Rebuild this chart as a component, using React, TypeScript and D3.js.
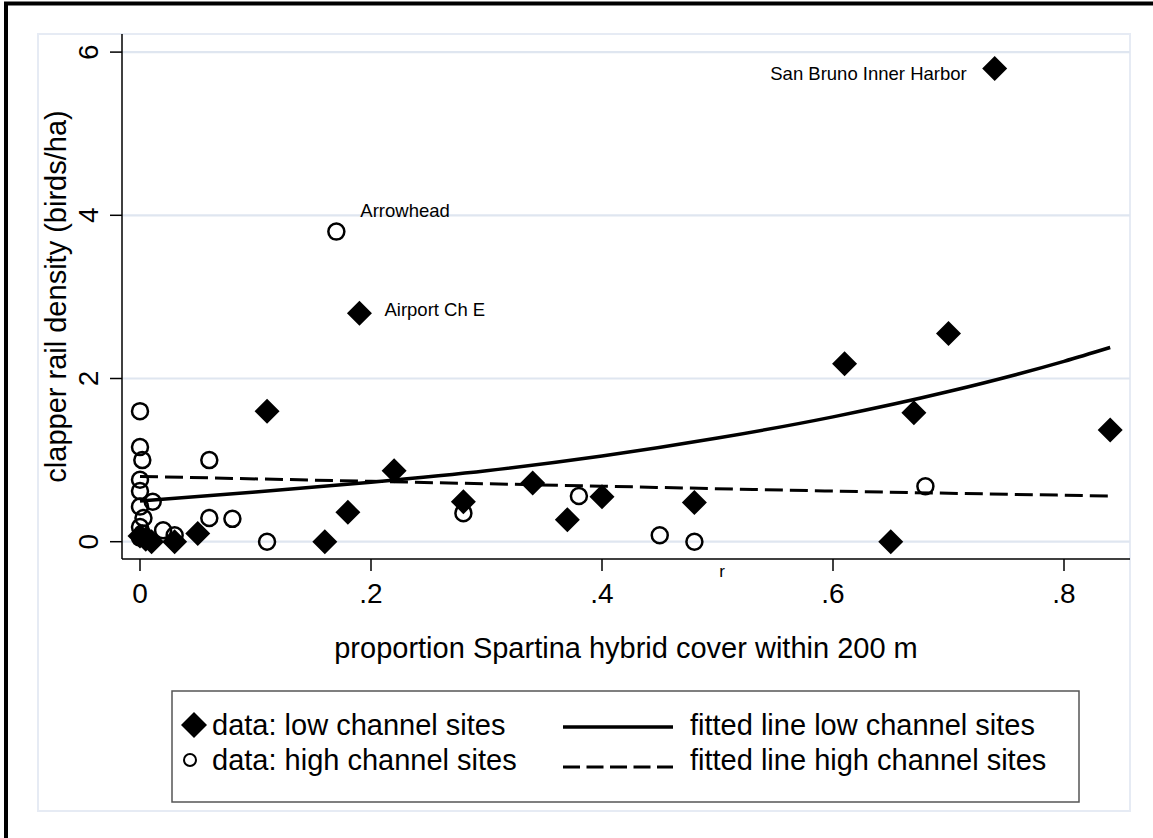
import React from "react";
import * as d3 from "d3";

// ---- data ----
const xTicks = [0, 0.2, 0.4, 0.6, 0.8];
const xTickLabels = ["0", ".2", ".4", ".6", ".8"];
const yTicks = [0, 2, 4, 6];
const yTickLabels = ["0", "2", "4", "6"];

// low channel sites (filled diamonds)
const lowX = [0.74, 0.19, 0.11, 0.61, 0.70, 0.67, 0.84, 0.65, 0.22, 0.34, 0.40, 0.28, 0.48, 0.18, 0.37, 0.16, 0.05, 0.03, 0.01, 0.005, 0];
const lowY = [5.8, 2.8, 1.6, 2.18, 2.55, 1.58, 1.37, 0, 0.87, 0.72, 0.55, 0.49, 0.48, 0.36, 0.27, 0, 0.1, 0, 0, 0.03, 0.07];

// high channel sites (hollow circles)
const highX = [0.17, 0, 0, 0.002, 0.06, 0, 0, 0.011, 0, 0.003, 0.06, 0.08, 0, 0.02, 0.03, 0.11, 0.28, 0.38, 0.45, 0.48, 0.68, 0.002, 0];
const highY = [3.8, 1.6, 1.16, 1.0, 1.0, 0.76, 0.62, 0.49, 0.43, 0.29, 0.29, 0.28, 0.18, 0.14, 0.08, 0, 0.35, 0.56, 0.08, 0, 0.68, 0.1, 0.05];

// fitted lines
const fitLowX = [0, 0.1, 0.2, 0.3, 0.4, 0.5, 0.6, 0.7, 0.8, 0.84];
const fitLowY = [0.5, 0.61, 0.73, 0.87, 1.05, 1.27, 1.53, 1.84, 2.21, 2.38];
const fitHighX = [0, 0.2, 0.4, 0.6, 0.84];
const fitHighY = [0.8, 0.74, 0.68, 0.62, 0.56];

// point labels
const labelText = ["San Bruno Inner Harbor", "Arrowhead", "Airport Ch E"];
const labelX = [0.74, 0.17, 0.19];
const labelY = [5.8, 3.8, 2.8];
const labelSide = ["left", "upright", "right"];

const legendItems = [
  "data: low channel sites",
  "data: high channel sites",
  "fitted line low channel sites",
  "fitted line high channel sites",
];

const FONT = "'Liberation Sans', Arial, Helvetica, sans-serif";

export default function App() {
  const W = 1153;
  const H = 838;
  const axisX = 122;
  const axisY = 559;
  const plotRight = 1130;
  const plotTop = 34;

  const x = d3.scaleLinear().domain([0, 0.8]).range([140, 140 + 0.8 * 1155]);
  const y = d3.scaleLinear().domain([0, 6]).range([541.7, 52.1]);

  const line = d3
    .line<[number, number]>()
    .x((d) => x(d[0]))
    .y((d) => y(d[1]))
    .curve(d3.curveMonotoneX);

  const lowFit = line(fitLowX.map((v, i) => [v, fitLowY[i]] as [number, number])) || "";
  const highFit = line(fitHighX.map((v, i) => [v, fitHighY[i]] as [number, number])) || "";

  const diamond = (cx: number, cy: number, r: number) =>
    `M${cx},${cy - r}L${cx + r},${cy}L${cx},${cy + r}L${cx - r},${cy}Z`;

  const gridColor = "#dfe6f0";

  return (
    <svg
      width={W}
      height={H}
      style={{ position: "absolute", left: 0, top: 0, background: "#fff" }}
      fontFamily={FONT}
    >
      <rect x={0} y={0} width={W} height={H} fill="#fff" />
      {/* outer black frame (top & left visible) */}
      <rect x={6} y={3.5} width={W + 20} height={H + 20} fill="none" stroke="#000" strokeWidth={4} />
      {/* graph region outline */}
      <rect x={38} y={34} width={plotRight - 38} height={811 - 34} fill="none" stroke="#e6ebf4" strokeWidth={2} />

      {/* gridlines */}
      {yTicks.map((t) => (
        <line key={"g" + t} x1={axisX} x2={plotRight} y1={y(t)} y2={y(t)} stroke={gridColor} strokeWidth={2.2} />
      ))}

      {/* axes */}
      <line x1={axisX} x2={axisX} y1={plotTop} y2={axisY} stroke="#000" strokeWidth={1.5} />
      <line x1={axisX} x2={plotRight} y1={axisY} y2={axisY} stroke="#000" strokeWidth={1.5} />

      {/* y ticks */}
      {yTicks.map((t, i) => (
        <g key={"yt" + t}>
          <line x1={110} x2={axisX} y1={y(t)} y2={y(t)} stroke="#000" strokeWidth={1.5} />
          <text
            transform={`translate(98,${y(t)}) rotate(-90)`}
            textAnchor="middle"
            fontSize={28}
            fill="#000"
          >
            {yTickLabels[i]}
          </text>
        </g>
      ))}

      {/* x ticks */}
      {xTicks.map((t, i) => (
        <g key={"xt" + t}>
          <line x1={x(t)} x2={x(t)} y1={axisY} y2={571} stroke="#000" strokeWidth={1.5} />
          <text x={x(t)} y={603} textAnchor="middle" fontSize={28} fill="#000">
            {xTickLabels[i]}
          </text>
        </g>
      ))}

      {/* stray label */}
      <text x={722} y={577} textAnchor="middle" fontSize={17} fill="#000">
        r
      </text>

      {/* axis titles */}
      <text x={626} y={658} textAnchor="middle" fontSize={29} fill="#000">
        proportion Spartina hybrid cover within 200 m
      </text>
      <text transform={`translate(66,${(plotTop + axisY) / 2}) rotate(-90)`} textAnchor="middle" fontSize={29} fill="#000">
        clapper rail density (birds/ha)
      </text>

      {/* high channel circles */}
      {highX.map((v, i) => (
        <circle key={"h" + i} cx={x(v)} cy={y(highY[i])} r={8} fill="none" stroke="#000" strokeWidth={2.5} />
      ))}

      {/* low channel diamonds */}
      {lowX.map((v, i) => (
        <path key={"l" + i} d={diamond(x(v), y(lowY[i]), 12.5)} fill="#000" />
      ))}

      {/* fitted lines */}
      <path d={lowFit} fill="none" stroke="#000" strokeWidth={3.5} />
      <path d={highFit} fill="none" stroke="#000" strokeWidth={3} strokeDasharray="18 7" />

      {/* point labels */}
      {labelText.map((t, i) => {
        const px = x(labelX[i]);
        const py = y(labelY[i]);
        if (labelSide[i] === "left")
          return (
            <text key={"pl" + i} x={px - 28} y={py + 12} textAnchor="end" fontSize={18.5} fill="#000">
              {t}
            </text>
          );
        if (labelSide[i] === "upright")
          return (
            <text key={"pl" + i} x={px + 24} y={py - 15} textAnchor="start" fontSize={18.5} fill="#000">
              {t}
            </text>
          );
        return (
          <text key={"pl" + i} x={px + 25} y={py + 3} textAnchor="start" fontSize={18.5} fill="#000">
            {t}
          </text>
        );
      })}

      {/* legend */}
      <rect x={172} y={691} width={1079 - 172} height={802 - 691} fill="#fff" stroke="#555" strokeWidth={1.5} />
      <path d={diamond(194, 725, 13)} fill="#000" />
      <text x={212} y={735} fontSize={29} fill="#000">
        {legendItems[0]}
      </text>
      <circle cx={190} cy={760} r={6} fill="none" stroke="#000" strokeWidth={2} />
      <text x={212} y={770} fontSize={29} fill="#000">
        {legendItems[1]}
      </text>
      <line x1={563} x2={673} y1={727} y2={727} stroke="#000" strokeWidth={3.5} />
      <text x={690} y={735} fontSize={29} fill="#000">
        {legendItems[2]}
      </text>
      <line x1={563} x2={673} y1={767} y2={767} stroke="#000" strokeWidth={3} strokeDasharray="17 6.5" />
      <text x={690} y={770} fontSize={29} fill="#000">
        {legendItems[3]}
      </text>
    </svg>
  );
}
